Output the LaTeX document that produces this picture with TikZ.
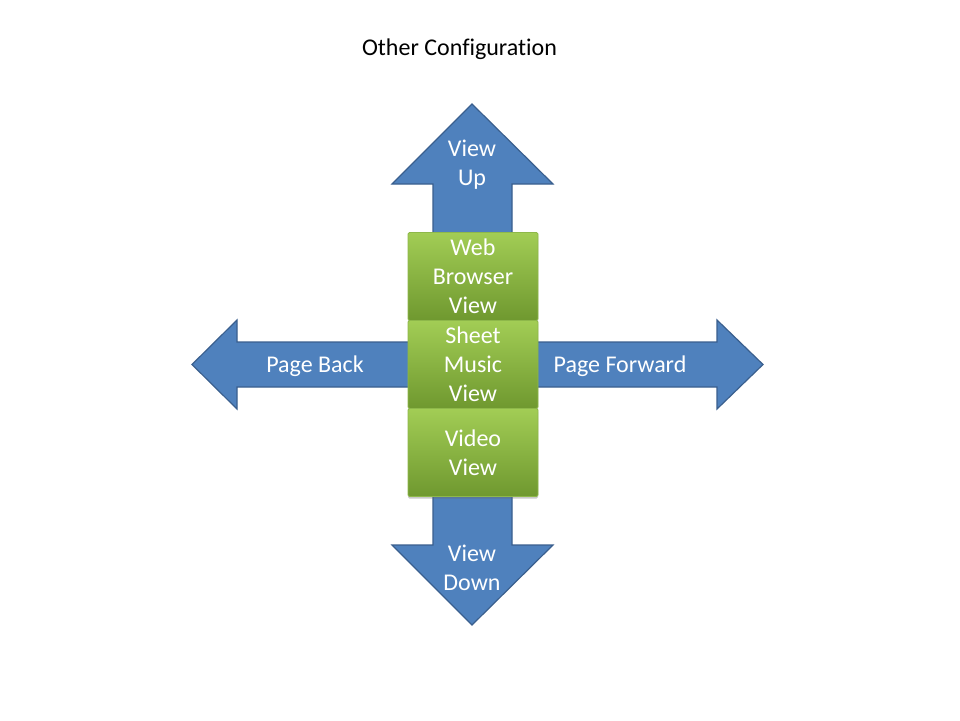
\documentclass[tikz,border=0pt]{standalone}
\usepackage{fontspec}
\setmainfont{Carlito}[Ligatures=NoCommon]
\usetikzlibrary{shadows}
\definecolor{arrowfill}{HTML}{4F81BD}
\definecolor{arrowline}{HTML}{3A5F8E}
\definecolor{greentop}{HTML}{A2CD55}
\definecolor{greenbot}{HTML}{6F982F}
\definecolor{greenline}{HTML}{8EB84A}
\begin{document}
\begin{tikzpicture}[x=1pt,y=-1pt,
  arrowshape/.style={fill=arrowfill,draw=arrowline,line width=1.2pt,line join=miter},
  viewbox/.style={draw=greenline,line width=0.8pt,rounded corners=1.5pt,top color=greentop,bottom color=greenbot,
    minimum width=130pt,minimum height=88pt,inner sep=0pt,text=white,align=center,
    font=\fontsize{24}{29}\selectfont,
    drop shadow={shadow xshift=0pt,shadow yshift=-2pt,opacity=0.35,fill=black!60}},
  lbl/.style={text=white,align=center,font=\fontsize{24}{29}\selectfont,inner sep=0pt},
  titlestyle/.style={text=black,font=\fontsize{24}{29}\selectfont,inner sep=0pt}]
\useasboundingbox[fill=white] (0,0) rectangle (960,720);

\node[titlestyle] (title) at (459.5,49) {Other Configuration};

% arrows
\draw[arrowshape] (472,104) -- (553,184) -- (512,184) -- (512,240) -- (433,240) -- (433,184) -- (392,184) -- cycle;
\draw[arrowshape] (433,490) -- (512,490) -- (512,545) -- (553,545) -- (472,625) -- (392,545) -- (433,545) -- cycle;
\draw[arrowshape] (192,364.5) -- (237,320) -- (237,342) -- (415,342) -- (415,387) -- (237,387) -- (237,409) -- cycle;
\draw[arrowshape] (530,342) -- (717,342) -- (717,320) -- (763,364.5) -- (717,409) -- (717,387) -- (530,387) -- cycle;

\node[lbl] (up) at (472,164.5) {View\\Up};
\node[lbl] (down) at (472,568) {View\\Down};
\node[lbl] (back) at (315,366.5) {Page Back};
\node[lbl] (fwd) at (620,366.5) {Page Forward};

% boxes
\node[viewbox] (web) at (473,276.5) {Web\\Browser\\View};
\node[viewbox] (sheet) at (473,364.5) {Sheet\\Music\\View};
\node[viewbox] (video) at (473,452.5) {Video\\View};
\end{tikzpicture}
\end{document}
